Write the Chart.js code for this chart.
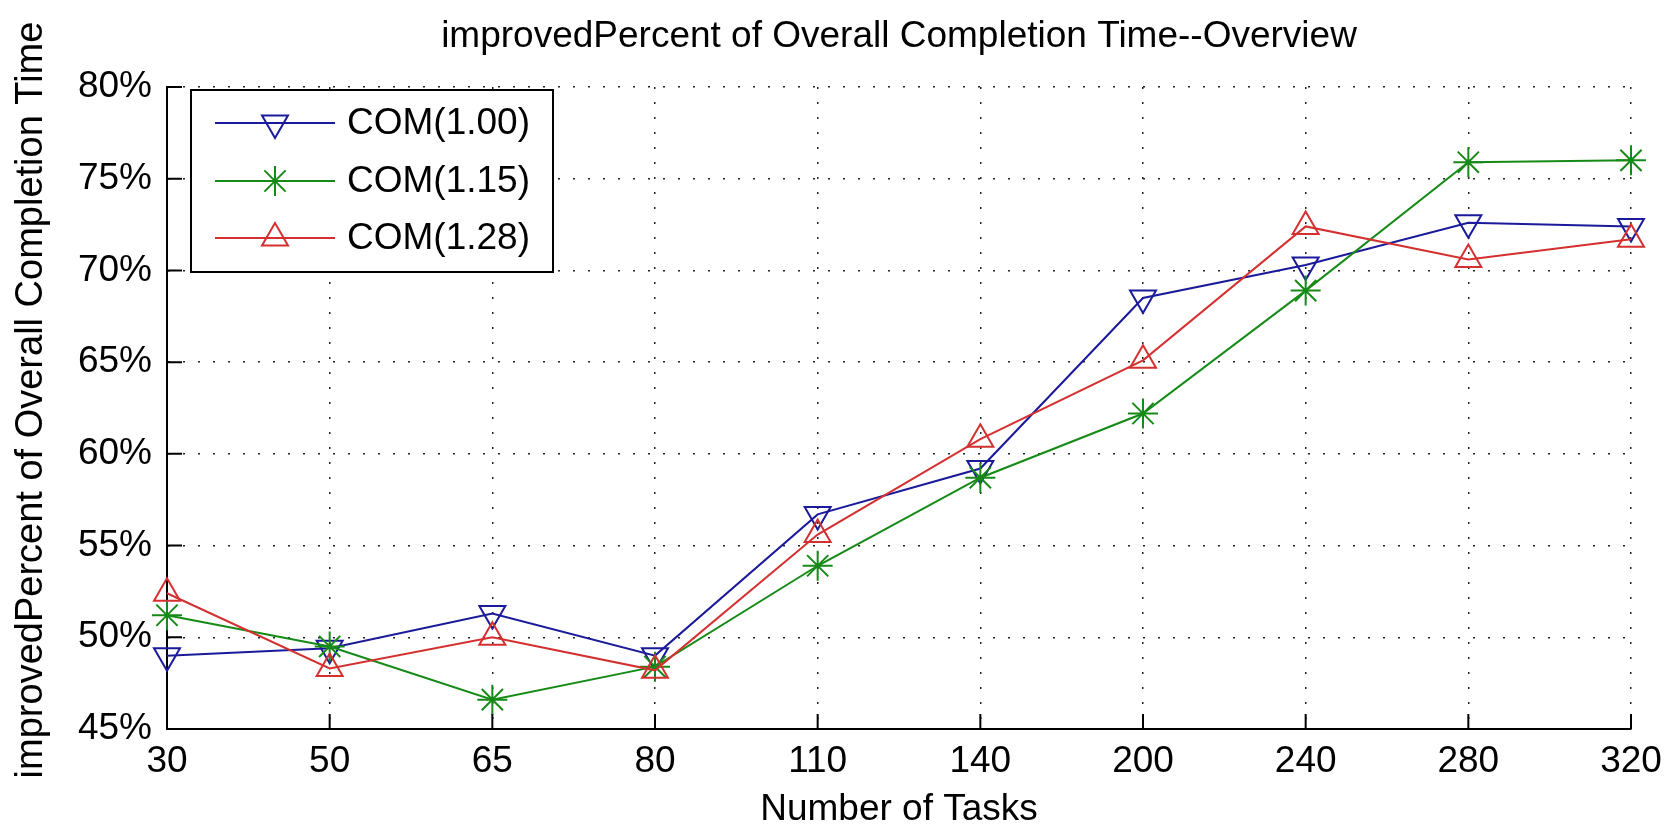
<!DOCTYPE html>
<html>
<head>
<meta charset="utf-8">
<title>improvedPercent of Overall Completion Time--Overview</title>
<script src="https://cdn.jsdelivr.net/npm/chart.js@4.4.0/dist/chart.umd.min.js"></script>
<style>
  html, body { margin: 0; padding: 0; background: #fff; }
  #wrap { width: 1673px; height: 830px; }
</style>
</head>
<body>
<div id="wrap"><canvas id="myChart" width="1673" height="830"></canvas></div>
<script>
// values (percent)
const taskCounts = ['30', '50', '65', '80', '110', '140', '200', '240', '280', '320'];
const com100 = [49.0, 49.4, 51.3, 49.0, 56.7, 59.2, 68.5, 70.3, 72.6, 72.4];
const com115 = [51.2, 49.5, 46.6, 48.4, 53.9, 58.7, 62.2, 68.9, 75.9, 76.0];
const com128 = [52.4, 48.3, 50.0, 48.2, 55.6, 60.8, 65.1, 72.4, 70.6, 71.7];
const yTicks = [45, 50, 55, 60, 65, 70, 75, 80];

const FONT = "'Liberation Sans', Arial, sans-serif";

function drawMarker(ctx, style, rotation, r, x, y) {
    if (Chart.helpers && Chart.helpers.drawPoint) {
        Chart.helpers.drawPoint(ctx, { pointStyle: style, rotation: rotation, radius: r, borderWidth: ctx.lineWidth }, x, y);
        return;
    }
    ctx.beginPath();
    if (style === 'star') {
        for (let k = 0; k < 4; k++) {
            const a = k * Math.PI / 4;
            ctx.moveTo(x - Math.cos(a) * r, y - Math.sin(a) * r);
            ctx.lineTo(x + Math.cos(a) * r, y + Math.sin(a) * r);
        }
    } else {
        let a = rotation * Math.PI / 180;
        for (let k = 0; k < 3; k++) {
            const px = x + Math.sin(a) * r, py = y - Math.cos(a) * r;
            if (k === 0) ctx.moveTo(px, py); else ctx.lineTo(px, py);
            a += 2 * Math.PI / 3;
        }
        ctx.closePath();
    }
    ctx.stroke();
}

// inward ticks, rotated y title and the boxed legend
const matlabAxes = {
    id: 'matlabAxes',
    afterDraw(chart) {
        const { ctx, chartArea } = chart;
        const xs = chart.scales.x, ys = chart.scales.y;
        ctx.save();
        ctx.strokeStyle = '#000';
        ctx.lineWidth = 2;
        ctx.beginPath();
        xs.ticks.forEach((t, i) => {
            const px = xs.getPixelForTick(i);
            ctx.moveTo(px, chartArea.bottom);
            ctx.lineTo(px, chartArea.bottom - 15);
        });
        ys.ticks.forEach((t, i) => {
            const py = ys.getPixelForTick(i);
            ctx.moveTo(chartArea.left, py);
            ctx.lineTo(chartArea.left + 15, py);
        });
        ctx.stroke();

        // y axis title
        ctx.save();
        ctx.translate(42, 400);
        ctx.rotate(-Math.PI / 2);
        ctx.fillStyle = '#000';
        ctx.font = '38px ' + FONT;
        ctx.textAlign = 'center';
        ctx.textBaseline = 'alphabetic';
        ctx.fillText('improvedPercent of Overall Completion Time', 0, 0);
        ctx.restore();

        // legend
        const box = { left: 191, top: 90, right: 553, bottom: 272 };
        ctx.fillStyle = '#fff';
        ctx.fillRect(box.left, box.top, box.right - box.left, box.bottom - box.top);
        ctx.strokeStyle = '#000';
        ctx.lineWidth = 2;
        ctx.strokeRect(box.left, box.top, box.right - box.left, box.bottom - box.top);
        const rows = [123, 181, 238];
        chart.data.datasets.forEach((ds, i) => {
            const ry = rows[i];
            ctx.strokeStyle = ds.borderColor;
            ctx.fillStyle = 'rgba(0,0,0,0)';
            ctx.lineWidth = 2;
            ctx.beginPath();
            ctx.moveTo(215, ry);
            ctx.lineTo(335, ry);
            ctx.stroke();
            drawMarker(ctx, ds.pointStyle, ds.pointRotation || 0, ds.pointRadius, 275, ry);
            ctx.fillStyle = '#000';
            ctx.font = '37px ' + FONT;
            ctx.textAlign = 'left';
            ctx.textBaseline = 'middle';
            ctx.fillText(ds.label, 347, ry + 1);
        });
        ctx.restore();
    }
};

function createGraph() {
    const ctx = document.getElementById('myChart').getContext('2d');
    const common = {
        borderWidth: 2,
        pointRadius: 15,
        pointHoverRadius: 15,
        pointBorderWidth: 2,
        pointBackgroundColor: 'rgba(0,0,0,0)',
        fill: false,
        tension: 0
    };
    const myChart = new Chart(ctx, {
        type: 'line',
        data: {
            labels: taskCounts,
            datasets: [
                Object.assign({ label: 'COM(1.00)', data: com100, borderColor: '#1a1a9a', pointBorderColor: '#1a1a9a',
                    pointStyle: 'triangle', pointRotation: 180, order: 2 }, common),
                Object.assign({ label: 'COM(1.15)', data: com115, borderColor: '#168a16', pointBorderColor: '#168a16',
                    pointStyle: 'star', order: 1 }, common),
                Object.assign({ label: 'COM(1.28)', data: com128, borderColor: '#d43030', pointBorderColor: '#d43030',
                    pointStyle: 'triangle', order: 0 }, common)
            ]
        },
        options: {
            responsive: false,
            animation: false,
            layout: { padding: { left: 0, right: 42, top: 0, bottom: 0 } },
            plugins: {
                legend: { display: false },
                tooltip: { enabled: false },
                title: {
                    display: true,
                    text: 'improvedPercent of Overall Completion Time--Overview',
                    color: '#000',
                    fullSize: false,
                    font: { family: FONT, size: 37, weight: 'normal', lineHeight: 1.2 },
                    padding: { top: 15, bottom: 27.6 }
                }
            },
            scales: {
                x: {
                    type: 'category',
                    offset: false,
                    afterFit(scale) { scale.height = 101; },
                    grid: { color: '#222', lineWidth: 1.5, drawTicks: false },
                    border: { display: true, color: '#000', width: 2, dash: [2, 13] },
                    ticks: { color: '#000', padding: 11, maxRotation: 0, autoSkip: false,
                        font: { family: FONT, size: 37 } },
                    title: {
                        display: true,
                        text: 'Number of Tasks',
                        color: '#000',
                        font: { family: FONT, size: 37, lineHeight: 1 },
                        padding: { top: 0, bottom: 1.5 }
                    }
                },
                y: {
                    min: yTicks[0],
                    max: yTicks[yTicks.length - 1],
                    afterBuildTicks(scale) { scale.ticks = yTicks.map(v => ({ value: v })); },
                    afterFit(scale) { scale.width = 167; },
                    grid: { color: '#222', lineWidth: 1.5, drawTicks: false },
                    border: { display: true, color: '#000', width: 2, dash: [2, 13] },
                    ticks: { color: '#000', padding: 15, font: { family: FONT, size: 37 },
                        callback: v => v + '%' }
                }
            }
        },
        plugins: [matlabAxes]
    });
    return myChart;
}

createGraph();
</script>
</body>
</html>
